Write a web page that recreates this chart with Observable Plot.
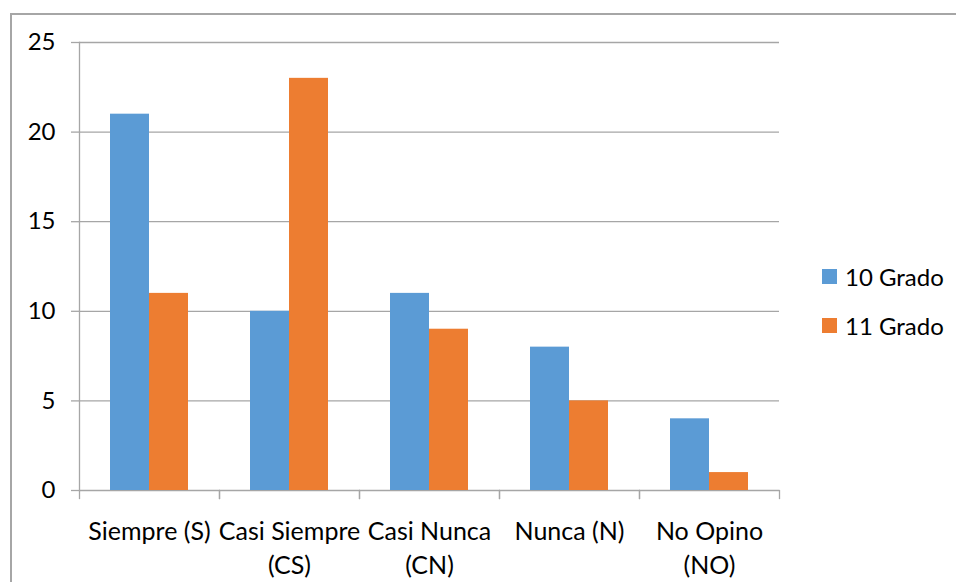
<!DOCTYPE html>
<html>
<head>
<meta charset="utf-8">
<script src="https://cdn.jsdelivr.net/npm/d3@7"></script>
<script src="https://cdn.jsdelivr.net/npm/@observablehq/plot@0.6"></script>
<style>
  html, body { margin: 0; padding: 0; background: #fff; }
  #wrap { position: relative; width: 956px; height: 582px; overflow: hidden; font-family: Lato, "Open Sans", sans-serif; }
  #border { position: absolute; left: 10px; top: 13px; width: 1000px; height: 700px; border-left: 2px solid #a6a6a6; border-top: 2px solid #a6a6a6; box-sizing: border-box; }
  #chart { position: absolute; left: 0; top: 0; }
  .leg { position: absolute; left: 822px; display: flex; align-items: center; font-size: 24px; color: #000; }
  .sw { width: 15px; height: 15px; margin-right: 8px; }
</style>
</head>
<body>
<div id="wrap">
  <div id="chart"></div>
  <div id="border"></div>
</div>
<script>
const categories = ["Siempre (S)", "Casi Siempre (CS)", "Casi Nunca (CN)", "Nunca (N)", "No Opino (NO)"];
const categoryLabels = ["Siempre (S)", "Casi Siempre\n(CS)", "Casi Nunca\n(CN)", "Nunca (N)", "No Opino\n(NO)"];
const series = ["10 Grado", "11 Grado"];
const values10 = [21, 10, 11, 8, 4];
const values11 = [11, 23, 9, 5, 1];
const yTicks = [0, 5, 10, 15, 20, 25];
const colors = ["#5b9bd5", "#ed7d31"];

const data = [];
categories.forEach((c, i) => {
  data.push({cat: c, serie: series[0], value: values10[i]});
  data.push({cat: c, serie: series[1], value: values11[i]});
});

const W = 956, H = 582, mL = 79, mR = 177, mT = 42, mB = 92;
const plotH = H - mT - mB;
const gray = "#a6a6a6";
const labelOf = new Map(categories.map((c, i) => [c, categoryLabels[i]]));

const chart = Plot.plot({
  width: W, height: H,
  marginLeft: mL, marginRight: mR, marginTop: mT, marginBottom: mB,
  style: {fontFamily: "Lato, 'Open Sans', sans-serif", fontSize: "24px", color: "#000", background: "transparent"},
  fx: {domain: categories, padding: 0, label: null},
  x: {domain: series, paddingInner: 0, paddingOuter: 0.772, axis: null},
  y: {domain: [0, 25], label: null},
  color: {domain: series, range: colors},
  marks: [
    Plot.gridY(yTicks, {stroke: gray, strokeOpacity: 1, strokeWidth: 1.3}),
    Plot.barY(data, {fx: "cat", x: "serie", y: "value", fill: "serie"}),
    Plot.axisY(yTicks, {tickSize: 8, tickPadding: 16, stroke: gray, strokeWidth: 1.3, strokeOpacity: 1, fill: "#000", fontSize: 24}),
    Plot.axisFx({anchor: "bottom", tickSize: 0, tickPadding: 25, tickFormat: d => labelOf.get(d), lineHeight: 1.36, fill: "#000", fontSize: 25}),
    Plot.frame({anchor: "left", facet: "super", stroke: gray, strokeWidth: 1.3}),
    Plot.frame({anchor: "left", insetTop: plotH, insetBottom: -8, stroke: gray, strokeWidth: 1.3}),
    Plot.frame({anchor: "right", insetTop: plotH, insetBottom: -8, stroke: gray, strokeWidth: 1.3})
  ]
});
document.getElementById("chart").appendChild(chart);

const wrap = document.getElementById("wrap");
series.forEach((s, i) => {
  const d = document.createElement("div");
  d.className = "leg";
  d.style.top = (262 + i * 49) + "px";
  const sw = document.createElement("span");
  sw.className = "sw";
  sw.style.background = colors[i];
  const t = document.createElement("span");
  t.textContent = s;
  d.appendChild(sw);
  d.appendChild(t);
  wrap.appendChild(d);
});
</script>
</body>
</html>
